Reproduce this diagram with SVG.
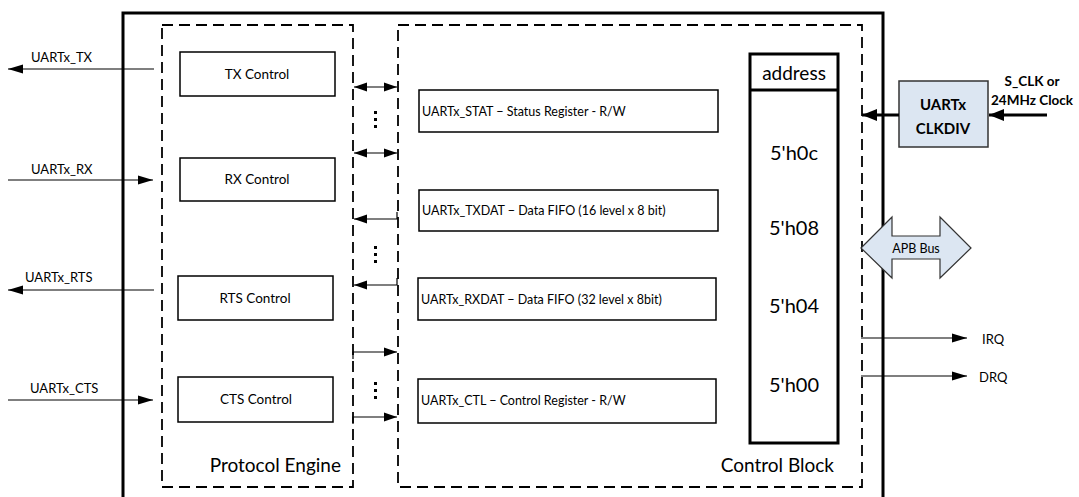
<svg xmlns="http://www.w3.org/2000/svg" width="1079" height="497" viewBox="0 0 1079 497">
<style>
text{font-family:Lato,"Open Sans","Liberation Sans",sans-serif;fill:#000}
.box{fill:#fff;stroke:#000;stroke-width:1.5}
.dash{fill:none;stroke:#000;stroke-width:1.8;stroke-dasharray:11 6}
.ln{fill:none;stroke:#000;stroke-width:1.2}
.thk{fill:none;stroke:#000;stroke-width:3}
.s12{font-size:13px}
.s13{font-size:13.5px}
.s11{font-size:12.5px}
.mid{text-anchor:middle}
</style>
<defs>
<marker id="ah" markerUnits="userSpaceOnUse" markerWidth="16" markerHeight="10" refX="15" refY="5" orient="auto-start-reverse"><path d="M0,0.5 L15,5 L0,9.5 Z" fill="#000"/></marker>
<marker id="ahs" markerUnits="userSpaceOnUse" markerWidth="14" markerHeight="10" refX="13" refY="5" orient="auto-start-reverse"><path d="M0,0.5 L13,5 L0,9.5 Z" fill="#000"/></marker>
<marker id="ahb" markerUnits="userSpaceOnUse" markerWidth="16" markerHeight="14" refX="15" refY="7" orient="auto"><path d="M0,1 L15,7 L0,13 Z" fill="#000"/></marker>
</defs>

<g id="outer"><path class="thk" d="M123,497 V13 H883 V497"/></g>

<g id="protocol-engine">
<rect class="dash" x="162" y="25" width="191" height="462"/>
<text x="341" y="472" font-size="19" text-anchor="end">Protocol Engine</text>
</g>
<g id="control-block">
<rect class="dash" x="398" y="25" width="464" height="462"/>
<text x="834" y="472" font-size="19" text-anchor="end">Control Block</text>
</g>

<g id="tx-control"><rect class="box" x="180" y="52" width="155" height="44"/><text class="s13 mid" x="257" y="79">TX Control</text></g>
<g id="rx-control"><rect class="box" x="180" y="158" width="155" height="43"/><text class="s13 mid" x="257" y="184">RX Control</text></g>
<g id="rts-control"><rect class="box" x="178" y="276" width="155" height="44"/><text class="s13 mid" x="255" y="303">RTS Control</text></g>
<g id="cts-control"><rect class="box" x="178" y="377" width="155" height="45"/><text class="s13 mid" x="256" y="404">CTS  Control</text></g>

<g id="reg-stat"><rect class="box" x="419" y="90" width="299" height="42"/><text class="s11" x="422" y="116">UARTx_STAT − Status Register - R/W</text></g>
<g id="reg-txdat"><rect class="box" x="419" y="190" width="299" height="41"/><text class="s11" x="422" y="215">UARTx_TXDAT − Data FIFO (16 level x 8 bit)</text></g>
<g id="reg-rxdat"><rect class="box" x="418" y="278" width="298" height="42"/><text class="s11" x="421" y="304">UARTx_RXDAT − Data FIFO (32 level x 8bit)</text></g>
<g id="reg-ctl"><rect class="box" x="418" y="379" width="298" height="44"/><text class="s11" x="421" y="405">UARTx_CTL − Control Register - R/W</text></g>

<g id="address">
<rect x="750" y="54" width="88" height="389" fill="#fff" stroke="#000" stroke-width="3"/>
<line x1="750" y1="90" x2="838" y2="90" stroke="#000" stroke-width="3"/>
<text x="794" y="80" font-size="19" class="mid">address</text>
<text x="794" y="160" font-size="20" class="mid">5'h0c</text>
<text x="794" y="235" font-size="20" class="mid">5'h08</text>
<text x="794" y="313" font-size="20" class="mid">5'h04</text>
<text x="794" y="392" font-size="20" class="mid">5'h00</text>
</g>

<g id="clkdiv">
<rect x="899" y="81" width="89" height="66" fill="#dce6f2" stroke="#333" stroke-width="1.5"/>
<text x="943" y="110" font-size="15" font-weight="bold" class="mid">UARTx</text>
<text x="943" y="134" font-size="15" font-weight="bold" class="mid">CLKDIV</text>
</g>

<g id="apb-bus">
<path d="M861,248 L892,217 V236 H940 V217 L971,248 L940,278 V259 H892 V278 Z" fill="#dce6f2" stroke="#333" stroke-width="1.2"/>
<text x="916" y="253" font-size="12.5" class="mid">APB Bus</text>
</g>

<g id="labels">
<text class="s12" x="31" y="62">UARTx_TX</text>
<text class="s12" x="31" y="174">UARTx_RX</text>
<text class="s12" x="25" y="282">UARTx_RTS</text>
<text class="s12" x="30" y="393">UARTx_CTS</text>
<text x="1032" y="86" font-size="13.5" font-weight="bold" class="mid">S_CLK or</text>
<text x="1032" y="105" font-size="13.5" font-weight="bold" class="mid">24MHz Clock</text>
<text class="s12" x="982" y="344">IRQ</text>
<text class="s12" x="979" y="382">DRQ</text>
</g>

<g id="connectors">
<line class="ln" x1="154" y1="69" x2="8" y2="69" marker-end="url(#ah)"/>
<line class="ln" x1="8" y1="180" x2="153" y2="180" marker-end="url(#ah)"/>
<line class="ln" x1="154" y1="290" x2="8" y2="290" marker-end="url(#ah)"/>
<line class="ln" x1="8" y1="400" x2="153" y2="400" marker-end="url(#ah)"/>

<line class="ln" x1="354" y1="87" x2="397" y2="87" marker-start="url(#ahs)" marker-end="url(#ahs)"/>
<line class="ln" x1="354" y1="153" x2="397" y2="153" marker-start="url(#ahs)" marker-end="url(#ahs)"/>
<path class="ln" d="M397,212 V219 H354" marker-end="url(#ahs)"/>
<path class="ln" d="M397,278 V285 H354" marker-end="url(#ahs)"/>
<path class="ln" d="M353,359 V352 H397" marker-end="url(#ahs)"/>
<path class="ln" d="M353,424 V417 H397" marker-end="url(#ahs)"/>

<g fill="#000">
<rect x="374" y="111" width="3" height="3"/><rect x="374" y="118" width="3" height="3"/><rect x="374" y="125" width="3" height="3"/>
<rect x="374" y="246" width="3" height="3"/><rect x="374" y="253" width="3" height="3"/><rect x="374" y="260" width="3" height="3"/>
<rect x="374" y="382" width="3" height="3"/><rect x="374" y="389" width="3" height="3"/><rect x="374" y="396" width="3" height="3"/>
</g>

<line class="thk" x1="899" y1="115" x2="862" y2="115" marker-end="url(#ahb)"/>
<line class="thk" x1="1047" y1="115" x2="989" y2="115" marker-end="url(#ahb)"/>

<line class="ln" x1="861" y1="338" x2="967" y2="338" marker-end="url(#ah)"/>
<line class="ln" x1="861" y1="376" x2="967" y2="376" marker-end="url(#ah)"/>
</g>
</svg>
